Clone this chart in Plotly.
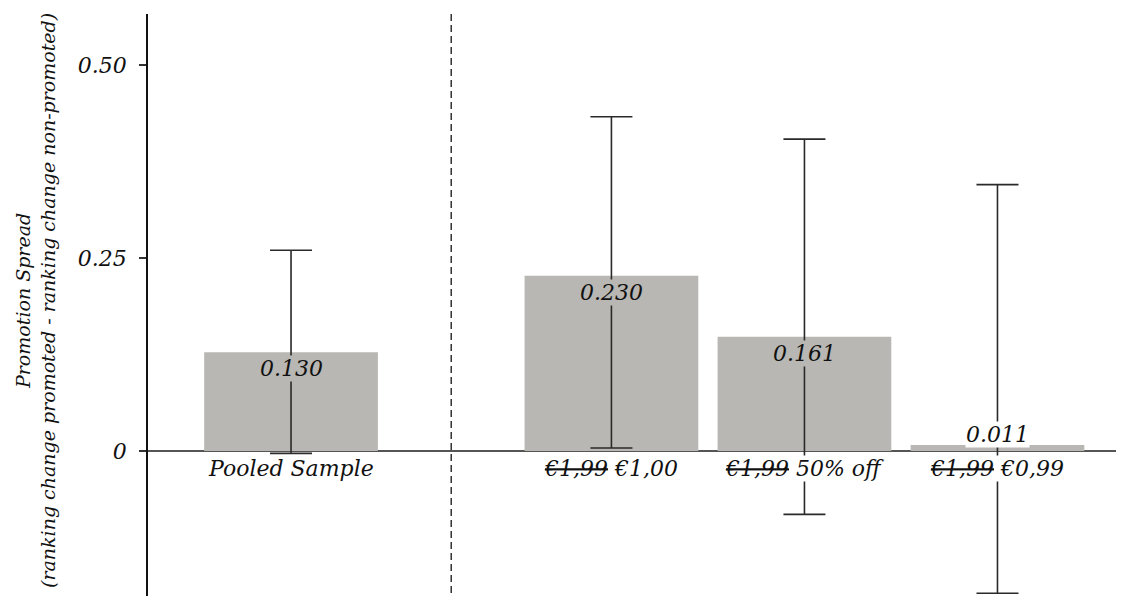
import plotly.graph_objects as go

# ---- data ----
categories = ["Pooled Sample", "<s>€1,99</s> €1,00", "<s>€1,99</s> 50% off", "<s>€1,99</s> €0,99"]
bar_values = [0.128, 0.227, 0.148, 0.008]
value_labels = ["0.130", "0.230", "0.161", "0.011"]
ci_high = [0.260, 0.433, 0.404, 0.345]
ci_low = [-0.003, 0.004, -0.082, -0.184]
y_tickvals = [0, 0.25, 0.50]
y_ticktext = ["0", "0.25", "0.50"]

# ---- layout constants ----
GAP = 1.66
xs = [0.0] + [GAP + i for i in range(len(categories) - 1)]
divider_x = GAP / 2
BAR_COLOR = "#b8b7b3"
FONT = "DejaVu Serif"
TXT = "#111111"

err_plus = [h - v for h, v in zip(ci_high, bar_values)]
err_minus = [v - l for v, l in zip(bar_values, ci_low)]

fig = go.Figure()
fig.add_trace(go.Bar(
    x=xs, y=bar_values, width=0.9,
    marker=dict(color=BAR_COLOR, line=dict(width=0)),
    error_y=dict(type="data", symmetric=False, array=err_plus, arrayminus=err_minus,
                 color="#2a2a2a", thickness=1.6, width=21),
    showlegend=False, hoverinfo="skip",
))

annotations = []
for x, v, lab in zip(xs, bar_values, value_labels):
    inside = v > 0.05
    annotations.append(dict(
        x=x, y=v, xref="x", yref="y", text=lab, showarrow=False,
        yanchor="top" if inside else "bottom", yshift=-3,
        bgcolor=BAR_COLOR if inside else "white", borderpad=0,
        font=dict(family=FONT, size=22, color=TXT, style="italic")))

for x, c in zip(xs, categories):
    annotations.append(dict(x=x, y=0, xref="x", yref="y", text=c, showarrow=False,
                            yanchor="top", yshift=-4, bgcolor="white", borderpad=0,
                            font=dict(family=FONT, size=22, color=TXT, style="italic")))

annotations.append(dict(
    x=0, y=0.5, xref="paper", yref="paper", xanchor="center", yanchor="middle",
    xshift=-113, yshift=8, textangle=-90, showarrow=False,
    text="Promotion Spread<br>(ranking change promoted - ranking change non-promoted)",
    font=dict(family=FONT, size=19, color=TXT, style="italic"),
))

fig.add_shape(type="line", x0=divider_x, x1=divider_x, xref="x", y0=0, y1=1, yref="paper",
              line=dict(color="#333333", width=1.5, dash="7px,4px"))

fig.update_layout(
    width=1124, height=596,
    margin=dict(l=140, r=0, t=6, b=0),
    plot_bgcolor="white", paper_bgcolor="white",
    annotations=annotations,
    font=dict(family=FONT),
)
fig.update_xaxes(range=[-0.741, 4.357], showticklabels=False, showgrid=False,
                 zeroline=False, showline=False, ticks="")
fig.update_yaxes(range=[-0.198, 0.566], tickvals=y_tickvals, ticktext=y_ticktext,
                 showgrid=False, zeroline=True, zerolinecolor="#555555", zerolinewidth=2,
                 showline=True, linecolor="#111111", linewidth=1.5,
                 ticks="outside", ticklen=7, tickcolor="#333333", tickwidth=1.5,
                 ticklabelstandoff=8,
                 tickfont=dict(family=FONT, size=22, color=TXT, style="italic"))

fig.write_html("out.html")
